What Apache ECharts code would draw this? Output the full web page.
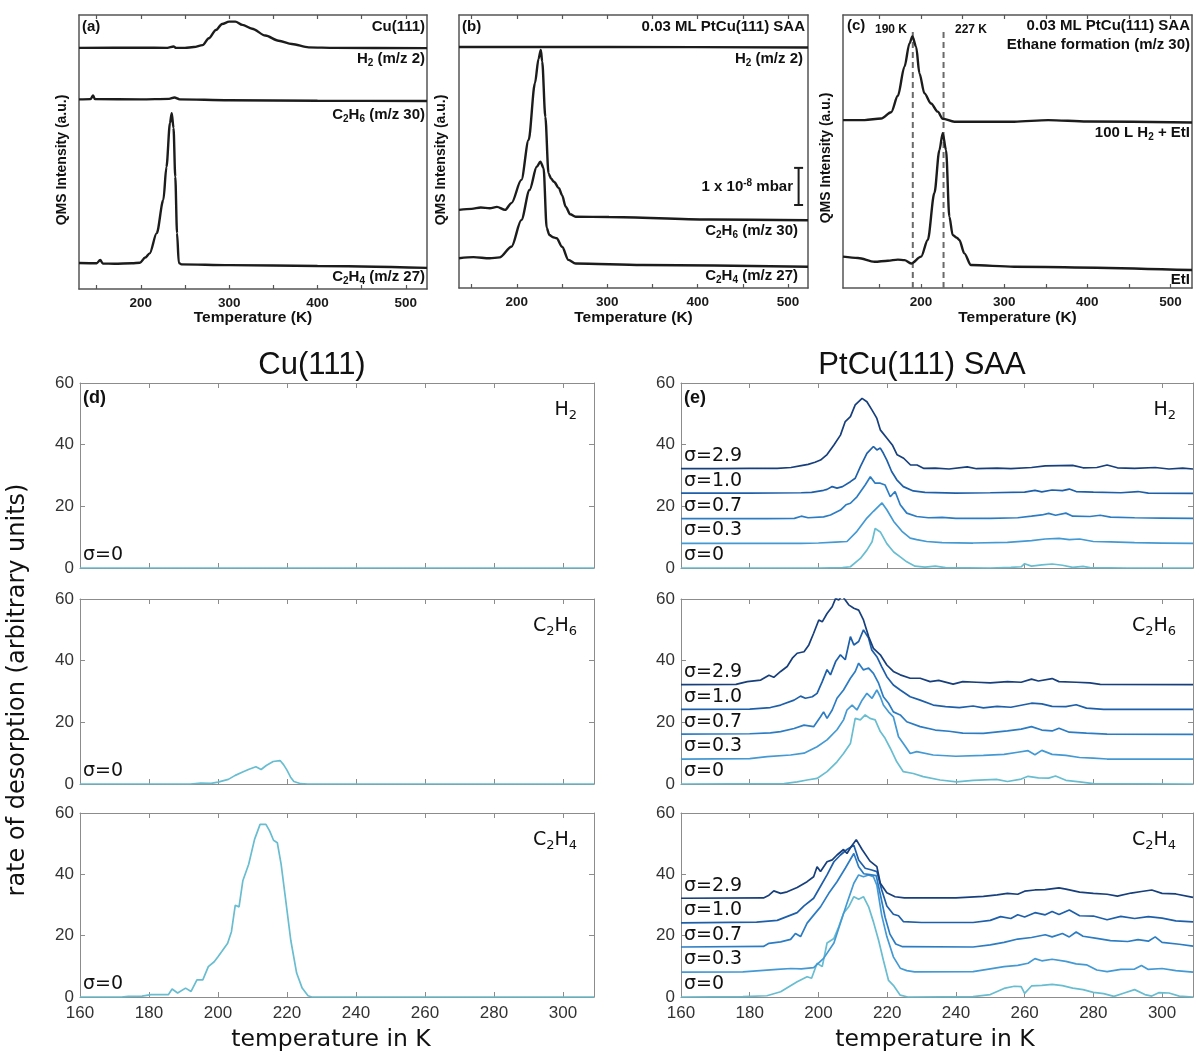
<!DOCTYPE html>
<html><head><meta charset="utf-8">
<script src="https://cdn.jsdelivr.net/npm/echarts@6/dist/echarts.min.js"></script>
<style>html,body{margin:0;padding:0;background:#fff}#c{width:1194px;height:1055px}</style>
</head><body><div id="c"></div>
<script>
// ---------------- tick labels ----------------
const topTickLabels = [200, 300, 400, 500];
const topMinorTicks = [150, 200, 250, 300, 350, 400, 450, 500];
const bottomXTicks = [160, 180, 200, 220, 240, 260, 280, 300];
const bottomYTicks = [0, 20, 40, 60];
const sigmaNames = ['σ=0', 'σ=0.3', 'σ=0.7', 'σ=1.0', 'σ=2.9'];
const sigmaOffsets = [0, 8, 16, 24, 32];
const refLinesC = [190, 227];

// ---------------- panel (a): Cu(111), experimental (arb. units 0-100) ----------------
const aH2 = [[130,88],[200,88.1],[230,88],[237,88.5],[240,88],[250,88],[260,88.3],[270,89],[277,91.5],[285,94.5],[292,96.7],[300,97.6],[307,97.6],[315,96.4],[326,95],[341,92.5],[356,90.6],[371,89.4],[390,88.2],[420,88],[524,87.9]];
const aC2H6 = [[130,69.2],[143,69.3],[146,70.6],[148,69.3],[200,69.2],[232,69.4],[238,69.9],[244,69.2],[300,68.9],[400,68.7],[524,68.6]];
const aC2H4 = [[130,9.5],[150,9.4],[154,10.6],[157,9.3],[170,9.2],[190,9.4],[199,9.6],[205,11.5],[210,13],[218,20.4],[225.5,32.5],[229,44.5],[233,60.6],[235,64.2],[237,58.8],[239,41],[241,20.4],[243,9.5],[246,9],[300,8.7],[400,8.4],[524,7.7]];

// ---------------- panel (b): 0.03 ML PtCu(111) SAA ----------------
const bH2 = [[136,88.3],[300,88.3],[522,88.1]];
const bC2H6 = [[136,28.6],[150,29],[160,29.5],[170,29.2],[178,29.7],[187,28.6],[194,31.1],[205,39.6],[213,54.2],[220,75],[224,84],[226.5,87.2],[228,83],[231.5,62.7],[235,42],[238,40],[241,38.9],[246.5,36.6],[250,34],[254,29.8],[259,27],[265,26.1],[302,26],[412,25.1],[522,24.8]];
const bC2H4 = [[136,10.9],[152,11.3],[170,10.9],[181,11.2],[194,15.1],[205,24.9],[214,35.9],[222,44.4],[226,46.3],[229.5,44],[233,22],[236,19.4],[240,18.6],[244,18.2],[250,15.1],[257,10.3],[265,9],[339,8.4],[522,7.8]];
const bScaleBar = [[511.6,30.4],[511.6,44]];

// ---------------- panel (c): ethane formation ----------------
const cH2EtI = [[106,61.5],[132,61.5],[152,62.1],[164,64.4],[172,70.4],[180,81.1],[186,89.6],[189.5,92.1],[194,88.4],[198,78.6],[204,71.3],[212,67.6],[220,64.6],[226,62],[240,60.9],[312,60.9],[353,61.5],[400,61],[526,60.6]];
const cEtI = [[106,11.5],[124,11],[144,9.6],[160,10],[172,10.4],[180,10.2],[188,9],[200,11.5],[208,17.6],[216,34.8],[222,50.5],[226,56.7],[230,50.5],[234,26.1],[238,19.4],[243,18.4],[246,17.6],[252,12.7],[260,8.4],[312,7.8],[526,6.6]];
const cRefTop = 93.8;

// ---------------- panel (d): Cu(111) simulation, sigma=0 ----------------
const dH2 = [[160,0],[309,0]];
const dC2H6 = [[160,0],[192,0],[195,0.3],[198,0.2],[200,0.6],[203,1.5],[205,2.8],[207,3.8],[209,4.8],[211,5.6],[212.5,4.7],[214,6],[216,7.3],[218,7.6],[219,6.3],[220,4.5],[221,2.3],[222,0.8],[224,0.1],[226,0],[309,0]];
const dC2H4 = [[160,0],[172,0],[174,0.2],[178,0.3],[180.6,0.75],[185.6,0.75],[186.7,2.6],[188.3,1.3],[190.6,2.9],[192.2,1.8],[193.9,5.6],[195.6,5.6],[197.2,9.9],[198.9,11.5],[200,13.1],[201.1,14.8],[202.8,17.5],[203.9,21.3],[205,29.9],[206.1,29.4],[207.2,37.9],[208.9,43.3],[210.6,51.4],[212.2,56.3],[213.9,56.3],[215,54.1],[216.1,51.1],[217.2,50.3],[218.3,43.3],[219.4,33.6],[221.1,18.5],[222.8,7.8],[224.4,2.9],[226.1,0.4],[227.2,0],[309,0]];

// ---------------- panel (e): PtCu(111) SAA simulation (values as plotted, incl. offsets) ----------------
const eH2_s0 = [[160,0],[200,0],[207,0.1],[209.3,0.4],[212.2,3.1],[214.1,5.8],[215.6,8.5],[216.5,12.8],[218,11.7],[219.9,7.9],[221.9,5.2],[223.8,3.6],[225.7,2],[228.1,0.6],[231,0.3],[234,0.6],[237,0.1],[250,0],[256,0.2],[259,0.4],[260,1.4],[262,0.6],[265,1],[268,1.3],[271,0.9],[274,0.2],[277,0.5],[279,0.1],[290,0],[309,0]];
const eH2_s03 = [[160,8],[195,8],[200,8.1],[205,8.4],[208.3,8.6],[211.2,11.9],[214.1,16.2],[216,18.4],[218.5,21.1],[219.9,18.9],[221.9,15.1],[224.3,11.9],[226.7,9.7],[228.6,9.2],[231.5,8.6],[236,8.2],[245,8.1],[255,8.3],[262,8.9],[266,9.4],[270,9.6],[273,9.2],[276,9.4],[280,8.6],[285,8.5],[292,8.2],[300,8.1],[309,8]];
const eH2_s07 = [[160,16],[185,16],[193,16.1],[195,16.8],[197,16.3],[201.5,16.6],[203.5,17.2],[206.4,18.8],[208,20.5],[209.3,21],[211.2,23.1],[213.6,26.9],[215.1,29.6],[216.5,27.5],[218,27.5],[219.4,26.9],[220.9,23.1],[222.3,24.8],[223.8,20.5],[225.7,17.8],[228.6,16.7],[232,16.3],[236,16.4],[240,16.1],[250,16.1],[258,16.3],[262,16.8],[265,17.2],[267,17.7],[269,17.1],[272,17.8],[274,16.8],[279,16.7],[282,17.1],[285,16.5],[292,16.3],[300,16.2],[309,16.1]];
const eH2_s10 = [[160,24.3],[180,24.3],[195,24.4],[198,24.5],[201.5,25.2],[202.5,25.5],[204,26.4],[205.4,25.9],[207,26.4],[209.3,28],[210.7,29.1],[212.2,32.9],[214.1,37.2],[216,39.4],[217,38.3],[218,38.9],[218.9,37.2],[219.9,35],[221.3,31.3],[222.8,28.6],[224.7,26.4],[227.6,25],[231,24.5],[240,24.3],[250,24.4],[260,24.6],[263,25.2],[265,24.7],[268,25.3],[271,25.1],[273,25.6],[275,24.8],[280,24.6],[288,24.4],[293,24.8],[296,24.3],[309,24.2]];
const eH2_s29 = [[160,32.2],[170,32.2],[180,32.3],[188,32.3],[192,32.6],[195,33.2],[197,33.6],[199,34.3],[200.6,35],[202.5,36.8],[204.5,39.9],[206.4,43.1],[207.8,47.5],[209.3,49.1],[210.7,52.9],[212.7,55],[214.1,53.9],[215.6,51.2],[216.5,49.5],[217,48.5],[218,44.8],[220,42],[221.5,39.9],[222.9,36.7],[224.8,35.6],[226.8,33.4],[228.7,33.4],[230.7,32.3],[234,32.4],[238,32.1],[243.3,32.8],[246,32.2],[252,32.4],[256,32.2],[262,32.6],[266,33.1],[270,33.2],[274,33.3],[277,32.5],[281,32.6],[284,33.4],[287,32.5],[292,32.3],[298,32.6],[302,32.1],[306,32.4],[309,32.1]];

const eC2H6_s0 = [[160,0],[190,0.1],[193.8,0.7],[196.7,1.3],[199.6,1.8],[202.5,4],[205.4,7.2],[207.3,9.9],[209.3,13.1],[210.7,21.3],[212.2,20.8],[213.6,22.4],[215,21.3],[216.5,20.8],[218,17],[219.4,14.8],[220.9,11.6],[222.8,7.2],[224.7,4],[227.6,3.4],[230.5,2.4],[235.4,1.3],[240.2,0.7],[245,1.2],[251.8,1.5],[255,0.8],[259,1.6],[261,2.5],[264,2],[267,1.9],[269,2.6],[272,1.2],[276,0.7],[280,0.1],[309,0]];
const eC2H6_s03 = [[160,8.1],[180,8.2],[185.1,8.9],[191.9,9.4],[195.8,10],[199.6,12.1],[202.5,14.3],[205.4,17.6],[207.3,20.8],[208.3,24],[209.8,25.6],[211.2,24],[212.7,27.2],[214.1,29.4],[215.6,27.8],[217,30.5],[218,28.3],[218.9,25.6],[220.4,23.4],[221.8,21.8],[223.3,15.3],[224.7,13.1],[226.7,9.9],[228.6,10.5],[233.4,9.4],[240,9],[248,9.3],[254,9.6],[258,10.3],[261,10.8],[263,9.5],[265,10.9],[268,9.6],[272,9.3],[276,8.6],[280,8.4],[284,8.1],[309,8.1]];
const eC2H6_s07 = [[160,16.2],[180,16.3],[186,16.6],[189,17],[192.9,18],[195.8,19.1],[198.6,18.6],[200.6,21.8],[201.5,23.4],[202.5,21.3],[204,24],[205.4,27.8],[207.3,30.5],[209.3,34.3],[210.7,36.5],[211.7,39.2],[213.1,37],[214.6,37.6],[216,35.9],[217.5,32.7],[218.9,28.3],[220.4,26.2],[221.8,23.4],[223.8,22.4],[225.7,20.2],[229.6,18.6],[234,17.5],[238,17.1],[242,16.5],[248,16.4],[255,17.2],[259,17.8],[262,18.6],[265,17.5],[268,17.2],[270,18.1],[273,16.8],[278,16.5],[284,16.2],[309,16.1]];
const eC2H6_s10 = [[160,24.2],[180,24.3],[186,24.8],[189,25.6],[192.9,27.2],[194.8,28.5],[196.2,27.8],[198.2,28.3],[199.6,29.4],[201.1,33.2],[202.5,37.1],[203.5,35.4],[205,39.7],[206.4,41.9],[207.8,40.3],[209.3,47.8],[210.3,45.1],[211.7,46.2],[213.1,50],[214.6,47.3],[215.5,43.5],[217,41.3],[218.4,38.1],[219.9,34.8],[221.8,32.1],[223.8,30.5],[226.7,28.3],[229.6,27.2],[233.4,25.6],[237,25.1],[241,24.8],[245,25.3],[248,24.7],[252,25.2],[256,24.9],[262,26.2],[265,26],[268,25.2],[272,25.1],[275,25.7],[278,24.6],[283,24.2],[309,24.2]];
const eC2H6_s29 = [[160,32.2],[176,32.3],[179.3,33.2],[183.2,33.7],[185.6,35.3],[187,34.6],[189,36.5],[190.9,38.1],[192.4,40.8],[193.8,42.4],[195.8,42.9],[197.2,45.1],[198.6,48.9],[200.1,53.2],[201.1,52.6],[202.5,55.3],[204,57.5],[205,60.2],[205.9,59.7],[206.9,61],[207.8,59.7],[208.8,58.1],[210.3,57],[211.7,56.4],[213.1,53.2],[214.6,47.8],[216,44],[218,41.9],[219.9,38.6],[221.8,36.5],[223.8,35.4],[226.7,34.3],[229.6,34.3],[232.5,33.2],[235,33.6],[239.2,32.4],[242,33.2],[246,33],[250,32.8],[255,33.2],[259,33],[262,34],[264,33.4],[268,34.2],[270,33.2],[275,33],[279,32.8],[282,32.3],[309,32.2]];

const eC2H4_s0 = [[160,0],[178,0.1],[185,0.4],[189,1.7],[193.8,5],[196.7,6.6],[198,6.1],[199.6,11],[201.1,9.9],[202.5,17.6],[204.5,19.1],[205.9,22.9],[207.3,27.3],[208.8,29.4],[210.3,32.7],[211.7,31.9],[213.1,32.7],[214.6,29.4],[216,24.5],[217.5,18.5],[218.9,12],[220.4,5.4],[221.8,3.8],[223.8,0.6],[226,0],[245,0.1],[250,0.8],[254,2.8],[257,3.5],[259,3.4],[260,1.2],[262,3.6],[265,3.8],[268,4.1],[271,3.7],[274,2.9],[277,2.4],[280,1.5],[283,1.1],[286,0.2],[289,1.3],[292,2.4],[295,0.8],[297,0.3],[299,1.4],[302,1.3],[305,0.3],[309,0]];
const eC2H4_s03 = [[160,8.1],[178,8.2],[183,8.6],[188,9],[192,9.3],[195,9.2],[198.6,9.6],[201.5,12.6],[204.5,17.6],[206.4,24.1],[208.3,30.6],[210.3,37.1],[211.7,39.8],[213.1,39.2],[214.6,39.8],[216,39.2],[217,36.5],[218.4,26.7],[219.9,19.7],[221.8,13.1],[223.8,9.4],[225.7,8.6],[228,8.2],[245,8.3],[250,9.2],[254,9.9],[258,10.3],[261,11],[263,12.5],[265,11.8],[268,12.3],[272,11.6],[275,10.8],[278,10.5],[281,8.8],[284,8.3],[288,9],[292,9.1],[294,10.3],[296,9],[300,9.3],[304,8.6],[309,8.1]];
const eC2H4_s07 = [[160,16.3],[184,16.5],[185.6,17.5],[189,18],[191.9,18.8],[193.3,20.7],[194.8,19.7],[196.7,24.1],[198.6,26.7],[200.6,29.4],[203,33.8],[205.4,37.6],[207.8,42],[210.3,46.8],[211.7,42.5],[213.2,40.2],[215,39.9],[216.8,39.6],[218,33.5],[219.4,26],[220.8,20.5],[222.5,17.3],[224.5,16.4],[245,16.3],[250,17],[254,17.8],[258,18.9],[262,19.4],[266,20.3],[268,19.6],[271,20.7],[273,19.6],[275,21.2],[277,19.8],[281,19.1],[285,18.4],[290,18.1],[293,18.7],[296,18.2],[298,19.6],[300,17.8],[305,17.2],[309,16.6]];
const eC2H4_s10 = [[160,24.2],[182,24.4],[188,25],[193.8,27.5],[195.8,29.7],[198.6,32.2],[200.6,36.1],[202.5,39.8],[204.5,44.1],[206.4,46.3],[208.3,48.1],[210.3,49.5],[211.7,44.7],[213.6,42],[215.5,41.4],[217,40.9],[218.4,35],[219.9,29.7],[221.8,27],[223.3,26.5],[224.7,24.6],[230,24.3],[245,24.3],[250,25],[253,26.2],[256,25.6],[258,26.8],[260,26.1],[263,27.5],[266,26.8],[268,27.9],[270,26.9],[273,28.4],[276,26.5],[280,26.4],[284,25.2],[288,26.3],[292,25.6],[296,26.2],[300,25.7],[304,24.8],[309,24.5]];
const eC2H4_s29 = [[160,32.2],[184,32.3],[185.6,33.2],[187,34.6],[189,33.8],[190.9,34.3],[193.8,35.7],[196.7,37.6],[198.6,39.2],[199.6,42.5],[200.6,40.9],[202.5,44.1],[204,44.7],[205.4,46.3],[207.3,48.1],[208.3,46.8],[209.5,49],[211,51.3],[212.7,48.1],[215,44.3],[217,42.5],[218,37.1],[219.9,34],[222.3,32.7],[225,32.3],[240,32.3],[248,32.8],[252,33.3],[255,33.8],[258,33.5],[260,34.5],[263,34.9],[266,35],[270,35.6],[272,35.2],[276,34.2],[280,33.8],[284,33.5],[287,32.9],[291,33.9],[294,34.4],[297,34.9],[300,33.8],[304,33.6],[309,32.5]];

// ---------------- layout / style (not data) ----------------
const sigmaColors = ['#68bdd0', '#4399d4', '#2c7cc4', '#1e5faa', '#173f7c'];
const frameTop = '#555555';
const frameBot = '#8c8c8c';
const inkTop = '#1c1c1c';
const sans = 'Liberation Sans, Arial, sans-serif';
const dejavu = 'DejaVu Sans, sans-serif';

const topPanels = [
  {left:79, top:15, width:348, height:274, min:130, max:524},
  {left:459, top:15, width:349, height:273, min:136, max:522},
  {left:843, top:15, width:349, height:273, min:106, max:526}
];
const botCols = [{left:80, width:514}, {left:681, width:512}];
const botRows = [{top:383, height:185}, {top:599, height:185}, {top:813, height:184}];

const grids = [], xAxes = [], yAxes = [], series = [], graphics = [];

function addTopGrid(p) {
  const g = grids.length;
  grids.push({left:p.left, top:p.top, width:p.width, height:p.height, containLabel:false, outerBoundsMode:'none'});
  const xb = {gridIndex:g, type:'value', min:p.min, max:p.max, position:'bottom',
    axisLine:{show:true, onZero:false, lineStyle:{color:frameTop, width:1.5}},
    axisTick:{show:true, inside:true, length:4, customValues:topMinorTicks, lineStyle:{color:frameTop, width:1.2}},
    axisLabel:{show:true, customValues:topTickLabels, color:'#1a1a1a', fontFamily:sans, fontWeight:'bold', fontSize:13.5, margin:7},
    splitLine:{show:false}};
  xAxes.push(xb);
  xAxes.push(Object.assign({}, xb, {position:'top', axisLabel:{show:false}}));
  const yl = {gridIndex:g, type:'value', min:0, max:100, position:'left',
    axisLine:{show:true, onZero:false, lineStyle:{color:frameTop, width:1.5}},
    axisTick:{show:false}, axisLabel:{show:false}, splitLine:{show:false}};
  yAxes.push(yl);
  yAxes.push(Object.assign({}, yl, {position:'right'}));
  return g;
}
function addBotGrid(c, r) {
  const g = grids.length;
  grids.push({left:botCols[c].left, top:botRows[r].top, width:botCols[c].width, height:botRows[r].height, containLabel:false, outerBoundsMode:'none'});
  const xb = {gridIndex:g, type:'value', min:160, max:309, position:'bottom',
    axisLine:{show:true, onZero:false, lineStyle:{color:frameBot, width:1}},
    axisTick:{show:true, inside:true, length:5, customValues:bottomXTicks, lineStyle:{color:frameBot}},
    axisLabel:{show:r === 2, customValues:bottomXTicks, color:'#333', fontFamily:sans, fontSize:17, margin:8},
    splitLine:{show:false}};
  xAxes.push(xb);
  xAxes.push(Object.assign({}, xb, {position:'top', axisLabel:{show:false}}));
  const yl = {gridIndex:g, type:'value', min:0, max:60, interval:20, position:'left',
    axisLine:{show:true, onZero:false, lineStyle:{color:frameBot, width:1}},
    axisTick:{show:true, inside:true, length:5, customValues:bottomYTicks, lineStyle:{color:frameBot}},
    axisLabel:{show:true, customValues:bottomYTicks, color:'#333', fontFamily:sans, fontSize:17, margin:6},
    splitLine:{show:false}};
  yAxes.push(yl);
  yAxes.push(Object.assign({}, yl, {position:'right', axisLabel:{show:false}}));
  return g;
}
function line(g, data, color, width, extra) {
  series.push(Object.assign({type:'line', xAxisIndex:2*g, yAxisIndex:2*g, data:data,
    symbol:'none', showSymbol:false, silent:true, animation:false, clip:true,
    lineStyle:{color:color, width:width}, itemStyle:{color:color}}, extra || {}));
}
function text(x, y, str, o) {
  graphics.push({type:'text', x:x, y:y, z:50, silent:true,
    style:Object.assign({text:str, fill:'#111', align:'left', verticalAlign:'middle'}, o || {})});
}
// rich styles
const richTop = {
  b:{fontFamily:sans, fontWeight:'bold', fontSize:15, lineHeight:18, fill:'#111'},
  s:{fontFamily:sans, fontWeight:'bold', fontSize:10, lineHeight:10, verticalAlign:'bottom', fill:'#111'},
  p:{fontFamily:sans, fontWeight:'bold', fontSize:10, lineHeight:10, verticalAlign:'top', fill:'#111'}
};
const richBot = {
  m:{fontFamily:dejavu, fontSize:19, lineHeight:24, fill:'#111'},
  s:{fontFamily:dejavu, fontSize:13, lineHeight:13, verticalAlign:'bottom', fill:'#111'}
};
function topLabel(x, y, str, align) { text(x, y, str, {align:align || 'right', rich:richTop}); }

// ---------------- top panels ----------------
const gA = addTopGrid(topPanels[0]);
const gB = addTopGrid(topPanels[1]);
const gC = addTopGrid(topPanels[2]);
const topLine = {smooth:0.3, smoothMonotone:'x'};
const topW = 2.4;
line(gA, aH2, inkTop, topW, topLine);
line(gA, aC2H6, inkTop, topW, topLine);
line(gA, aC2H4, inkTop, topW, topLine);
line(gB, bH2, inkTop, topW, topLine);
line(gB, bC2H6, inkTop, topW, topLine);
line(gB, bC2H4, inkTop, topW, topLine);
line(gB, bScaleBar, inkTop, 2, {symbol:'rect', showSymbol:true, symbolSize:[9,2]});
line(gC, cH2EtI, inkTop, topW, topLine);
line(gC, cEtI, inkTop, topW, topLine);
refLinesC.forEach(function (t) {
  line(gC, [[t, 0], [t, cRefTop]], '#6a6a6a', 2, {lineStyle:{color:'#6a6a6a', width:2, type:[6,4]}, z:1});
});

// top panel texts
topLabel(82, 27, '{b|(a)}', 'left');
topLabel(425, 27, '{b|Cu(111)}');
topLabel(425, 59, '{b|H}{s|2}{b| (m/z 2)}');
topLabel(425, 115, '{b|C}{s|2}{b|H}{s|6}{b| (m/z 30)}');
topLabel(425, 277, '{b|C}{s|2}{b|H}{s|4}{b| (m/z 27)}');

topLabel(462, 27, '{b|(b)}', 'left');
topLabel(805, 27, '{b|0.03 ML PtCu(111) SAA}');
topLabel(803, 59, '{b|H}{s|2}{b| (m/z 2)}');
topLabel(793, 187, '{b|1 x 10}{p|-8}{b| mbar}');
topLabel(798, 231, '{b|C}{s|2}{b|H}{s|6}{b| (m/z 30)}');
topLabel(798, 276, '{b|C}{s|2}{b|H}{s|4}{b| (m/z 27)}');

topLabel(847, 26, '{b|(c)}', 'left');
text(875, 30, '190 K', {fontFamily:sans, fontWeight:'bold', fontSize:12, fill:'#111'});
text(955, 30, '227 K', {fontFamily:sans, fontWeight:'bold', fontSize:12, fill:'#111'});
topLabel(1190, 26, '{b|0.03 ML PtCu(111) SAA}');
topLabel(1190, 45, '{b|Ethane formation (m/z 30)}');
topLabel(1190, 133, '{b|100 L H}{s|2}{b| + EtI}');
topLabel(1190, 280, '{b|EtI}');

topPanels.forEach(function (p) {
  text(p.left + p.width / 2, 318, 'Temperature (K)', {align:'center', fontFamily:sans, fontWeight:'bold', fontSize:15.5, fill:'#111'});
});
[[62, 160], [441, 160], [826, 158]].forEach(function (p) {
  graphics.push({type:'text', x:p[0], y:p[1], rotation:Math.PI / 2, z:50, silent:true,
    style:{text:'QMS Intensity (a.u.)', align:'center', verticalAlign:'middle', fontFamily:sans, fontWeight:'bold', fontSize:14, fill:'#111'}});
});

// ---------------- bottom panels ----------------
const dSeries = [dH2, dC2H6, dC2H4];
const eSeries = [
  [eH2_s0, eH2_s03, eH2_s07, eH2_s10, eH2_s29],
  [eC2H6_s0, eC2H6_s03, eC2H6_s07, eC2H6_s10, eC2H6_s29],
  [eC2H4_s0, eC2H4_s03, eC2H4_s07, eC2H4_s10, eC2H4_s29]
];
const species = ['{m|H}{s|2}', '{m|C}{s|2}{m|H}{s|6}', '{m|C}{s|2}{m|H}{s|4}'];

for (let r = 0; r < 3; r++) {
  const gd = addBotGrid(0, r);
  line(gd, dSeries[r], sigmaColors[0], 1.7);
  const ge = addBotGrid(1, r);
  for (let k = 0; k < 5; k++) line(ge, eSeries[r][k], sigmaColors[k], 1.7);

  const row = botRows[r];
  text(botCols[0].left + botCols[0].width - 17, row.top + 27, species[r], {align:'right', rich:richBot});
  text(botCols[1].left + botCols[1].width - 17, row.top + 27, species[r], {align:'right', rich:richBot});
  const yOf = function (v) { return row.top + row.height * (1 - v / 60); };
  text(botCols[0].left + 3, yOf(sigmaOffsets[0]) - 13, sigmaNames[0], {fontFamily:dejavu, fontSize:19, fill:'#111'});
  for (let k = 0; k < 5; k++) {
    text(botCols[1].left + 3, yOf(sigmaOffsets[k]) - 13, sigmaNames[k], {fontFamily:dejavu, fontSize:19, fill:'#111'});
  }
}
text(botCols[0].left + 3, botRows[0].top + 15, '(d)', {fontFamily:sans, fontWeight:'bold', fontSize:18, fill:'#111'});
text(botCols[1].left + 3, botRows[0].top + 15, '(e)', {fontFamily:sans, fontWeight:'bold', fontSize:18, fill:'#111'});

text(312, 365, 'Cu(111)', {align:'center', fontFamily:sans, fontSize:31, fill:'#111'});
text(922, 365, 'PtCu(111) SAA', {align:'center', fontFamily:sans, fontSize:31, fill:'#111'});
text(botCols[0].left + botCols[0].width / 2 - 6, 1040, 'temperature in K', {align:'center', fontFamily:dejavu, fontSize:23.5, fill:'#111'});
text(botCols[1].left + botCols[1].width / 2 - 2, 1040, 'temperature in K', {align:'center', fontFamily:dejavu, fontSize:23.5, fill:'#111'});
graphics.push({type:'text', x:18, y:690, rotation:Math.PI / 2, z:50, silent:true,
  style:{text:'rate of desorption (arbitrary units)', align:'center', verticalAlign:'middle', fontFamily:dejavu, fontSize:24, fill:'#111'}});

const chart = echarts.init(document.getElementById('c'), null, {renderer:'canvas'});
chart.setOption({
  animation:false,
  backgroundColor:'#ffffff',
  grid:grids, xAxis:xAxes, yAxis:yAxes, series:series,
  graphic:{elements:graphics}
});
</script>
</body></html>
